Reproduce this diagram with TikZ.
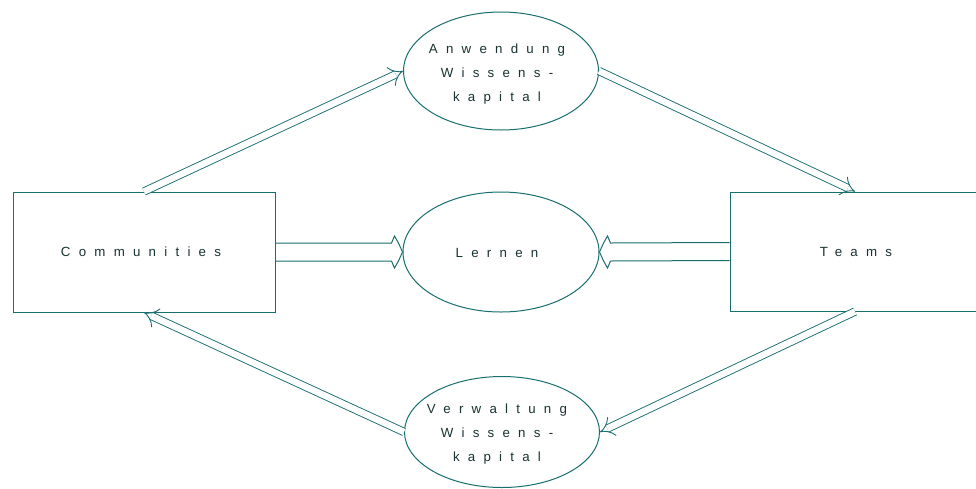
\documentclass[tikz,border=0pt]{standalone}
\usepackage{fontspec}
\setmainfont{Liberation Sans}
\newfontfamily\spaced[LetterSpace=62]{Liberation Sans}
\usetikzlibrary{arrows.meta,shapes.geometric,calc}
\definecolor{ln}{RGB}{25,110,110}
\definecolor{tx}{RGB}{25,50,50}
\begin{document}
\begin{tikzpicture}[x=1pt,y=-1pt,
  box/.style={draw=ln, line width=1pt, rectangle, inner sep=0pt},
  oval/.style={draw=ln, line width=1pt, ellipse, inner sep=0pt},
  lbl/.style={text=tx, font=\spaced\fontsize{13.3}{24}\selectfont, align=center, inner sep=0pt},
  thinarrow/.style={draw=ln, double=white, line width=0.9pt, double distance=6.5pt, -{Implies}},
  widearrow/.style={draw=ln, line width=1pt, line join=miter}]
\clip (0,0) rectangle (976,488);
\fill[white] (0,0) rectangle (976,488);
% boxes
\node[box, minimum width=262pt, minimum height=120pt] (comm) at (144,252) {};
\node[box, minimum width=250pt, minimum height=119pt] (teams) at (855,251.5) {};
% ellipses
\node[oval, minimum width=195pt, minimum height=118pt] (anw) at (501,71) {};
\node[oval, minimum width=196pt, minimum height=120pt] (lern) at (501,252) {};
\node[oval, minimum width=195pt, minimum height=111pt] (verw) at (502,432) {};
% labels
\node[lbl] (tcomm) at (141,252) {Communities};
\node[lbl] (tteams) at (856,252) {Teams};
\node[lbl] (tlern) at (497,253) {Lernen};
\node[lbl] (tanw) at (497,74) {Anwendung\\Wissens-\\kapital};
\node[lbl] (tverw) at (497,434) {Verwaltung\\Wissens-\\kapital};
% connectors
\draw[thinarrow] (comm.north) -- (anw.west);
\draw[thinarrow] (anw.east) -- (teams.north);
\draw[thinarrow] (teams.south) -- (verw.east);
\draw[thinarrow] (verw.west) -- (comm.south);
% wide hollow arrows
\draw[widearrow] ($(comm.east)+(0,-9)$) -- ($(lern.west)+(-11,-9)$) -- ($(lern.west)+(-8,-16)$)
  .. controls ($(lern.west)+(-4,-9)$) .. (lern.west)
  .. controls ($(lern.west)+(-4,9)$) .. ($(lern.west)+(-8,16)$) -- ($(lern.west)+(-11,9)$) -- ($(comm.east)+(0,9)$);
\draw[widearrow] ($(teams.west)+(0,-9)$) -- ($(lern.east)+(11,-9)$) -- ($(lern.east)+(8,-16)$)
  .. controls ($(lern.east)+(4,-9)$) .. (lern.east)
  .. controls ($(lern.east)+(4,9)$) .. ($(lern.east)+(8,16)$) -- ($(lern.east)+(11,9)$) -- ($(teams.west)+(0,9)$);
\end{tikzpicture}
\end{document}
